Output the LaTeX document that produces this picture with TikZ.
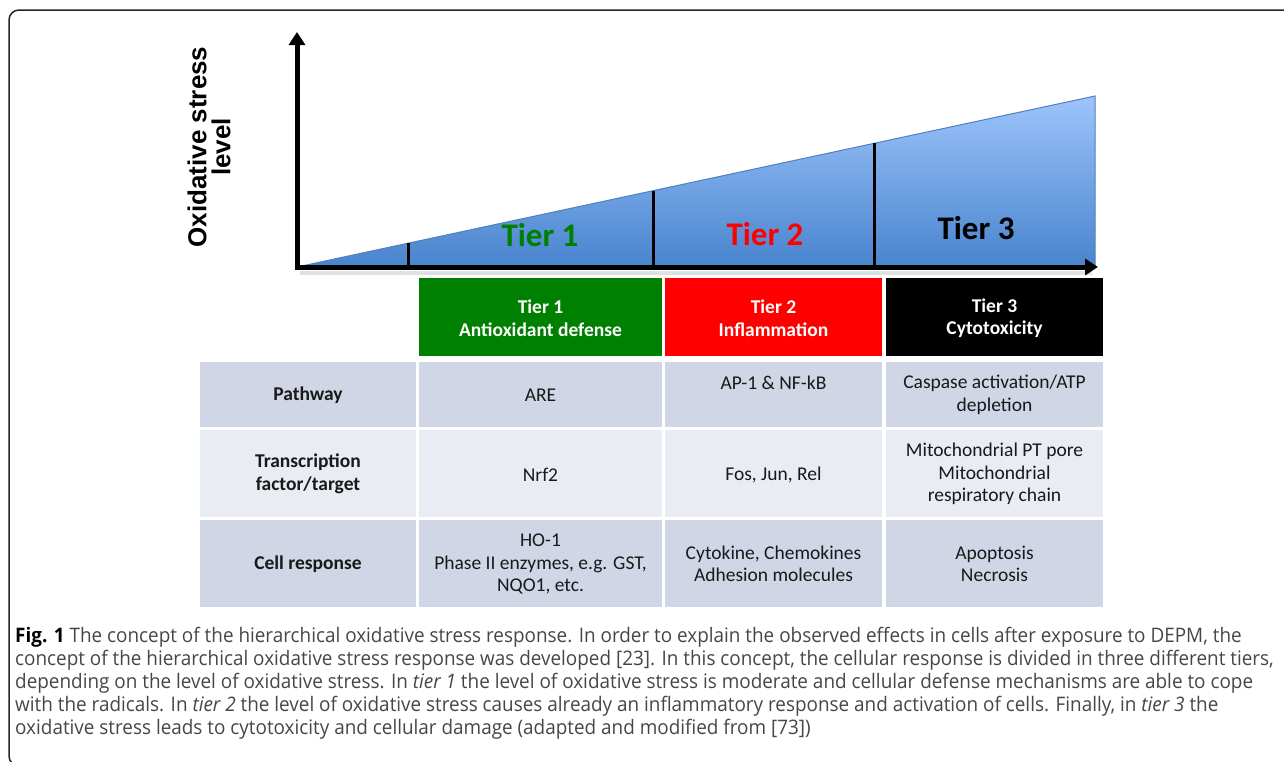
\documentclass[tikz,border=0pt]{standalone}
\usepackage{fontspec}
\setmainfont{Carlito}
\newfontfamily\axisfont{Liberation Sans}
\newfontfamily\capfont[FakeStretch=0.945]{Open Sans}
\usetikzlibrary{arrows.meta}
\definecolor{TierGreen}{rgb}{0, 0.5, 0}
\definecolor{TierRed}{rgb}{1, 0, 0}
\definecolor{RowDark}{RGB}{208,214,229}
\definecolor{RowLight}{RGB}{233,236,243}
\definecolor{WedgeTop}{RGB}{158,196,251}
\definecolor{WedgeBottom}{RGB}{72,132,206}
\definecolor{WedgeEdge}{RGB}{79,129,189}
\definecolor{CaptionGray}{RGB}{70,70,70}
\newcommand\cellfont{\fontsize{19.5}{22.5}\selectfont}

\begin{document}
\begin{tikzpicture}[x=1pt,y=1pt,yscale=-1,xscale=1,
	axis/.style={line width=5pt, -{Triangle[length=13pt,width=16pt]}},
	divider/.style={line width=3pt},
	tierlabel/.style={inner sep=0pt, font=\fontsize{33}{33}\selectfont\bfseries},
	celltext/.style={inner sep=0pt, align=center, font=\cellfont, text=black!90},
	headtext/.style={inner sep=0pt, align=center, font=\cellfont\bfseries, text=white}]
		\useasboundingbox (0,0) rectangle (1284,761);

		% Frame round the figure (open to the right and below)
		\draw[line width=1.5pt, black!85, rounded corners=10pt] (1300,10) -- (9,10) -- (9,766) -- (30,766);

		% Corners of the stress wedge
		\coordinate (O) at (297,267);
		\coordinate (wedgetop) at (1095,96);
		\coordinate (wedgeend) at (1095,267);

		% Blue wedge with gradient
		\shade[top color=WedgeTop, bottom color=WedgeBottom] (O) -- (wedgetop) -- (wedgeend) -- cycle;
		\draw[WedgeEdge, line width=1pt] (O) -- (wedgetop) -- (wedgeend);

		% Tier dividers, from the axis up to the wedge edge
		\draw[divider] (408,243.2) -- (408,266);
		\draw[divider] (653,190.7) -- (653,266);
		\draw[divider] (874,143.4) -- (874,266);

		% Soft shadow below the horizontal axis
		\draw[black!12, line width=4pt] (300,273) -- (1092,273);

		% Axes
		\coordinate (xstart) at (295,267);
		\coordinate (xend) at (1098,267);
		\coordinate (ystart) at (297,269.5);
		\coordinate (yend) at (297,32);
		\draw[axis] (xstart) -- (xend);
		\draw[axis] (ystart) -- (yend);

		% Axis label
		\node[rotate=90, align=center, inner sep=0pt, font=\axisfont\bfseries\fontsize{26}{24}\selectfont] (ylabel) at (209,147) {Oxidative stress\\level};

		% Tier names inside the wedge
		\node[tierlabel, text=TierGreen] (wtier1) at (540,235) {Tier 1};
		\node[tierlabel, text=TierRed] (wtier2) at (765,234) {Tier 2};
		\node[tierlabel, text=black] (wtier3) at (976,228) {Tier 3};

		% Table: header row
		\fill[TierGreen] (419,278) rectangle (662,356);
		\fill[TierRed] (665,278) rectangle (882,356);
		\fill[black] (886,278) rectangle (1103,356);

		% Table: body rows
		\fill[RowDark] (200,362) rectangle (416,427);
		\fill[RowDark] (419,362) rectangle (662,427);
		\fill[RowDark] (665,362) rectangle (882,427);
		\fill[RowDark] (886,362) rectangle (1103,427);
		\fill[RowLight] (200,430) rectangle (416,517);
		\fill[RowLight] (419,430) rectangle (662,517);
		\fill[RowLight] (665,430) rectangle (882,517);
		\fill[RowLight] (886,430) rectangle (1103,517);
		\fill[RowDark] (200,520) rectangle (416,607);
		\fill[RowDark] (419,520) rectangle (662,607);
		\fill[RowDark] (665,520) rectangle (882,607);
		\fill[RowDark] (886,520) rectangle (1103,607);

		% Header texts
		\node[headtext] (head1) at (540.5,318) {Tier 1\\Antioxidant defense};
		\node[headtext] (head2) at (773.5,318) {Tier 2\\Inflammation};
		\node[headtext] (head3) at (994.5,318) {Tier 3\\Cytotoxicity};

		% Row labels
		\node[celltext, font=\cellfont\bfseries] (pathway) at (308,395) {Pathway};
		\node[celltext, font=\cellfont\bfseries] (factor) at (308,474) {Transcription\\factor/target};
		\node[celltext, font=\cellfont\bfseries] (response) at (308,564) {Cell response};

		% Pathway row
		\node[celltext] (are) at (540.5,395) {ARE};
		\node[celltext] (apnf) at (773.5,383) {AP-1 \& NF-kB};
		\node[celltext] (caspase) at (994.5,395) {Caspase activation/ATP\\depletion};

		% Transcription factor row
		\node[celltext] (nrf) at (540.5,475) {Nrf2};
		\node[celltext] (fos) at (773.5,475) {Fos, Jun, Rel};
		\node[celltext] (mito) at (994.5,474) {Mitochondrial PT pore\\Mitochondrial\\respiratory chain};

		% Cell response row
		\node[celltext] (ho) at (540.5,564) {HO-1\\Phase II enzymes, e.g. GST,\\NQO1, etc.};
		\node[celltext] (cyto) at (773.5,564) {Cytokine, Chemokines\\Adhesion molecules};
		\node[celltext] (apop) at (994.5,564) {Apoptosis\\Necrosis};

		% Caption
		\node[anchor=north west, inner sep=0pt, align=left, text=CaptionGray, font=\capfont\fontsize{20}{23}\selectfont] (caption) at (15,627) {\textcolor{black}{\bfseries Fig. 1} The concept of the hierarchical oxidative stress response. In order to explain the observed effects in cells after exposure to DEPM, the\\
		concept of the hierarchical oxidative stress response was developed [23]. In this concept, the cellular response is divided in three different tiers,\\
		depending on the level of oxidative stress. In \textit{tier 1} the level of oxidative stress is moderate and cellular defense mechanisms are able to cope\\
		with the radicals. In \textit{tier 2} the level of oxidative stress causes already an inflammatory response and activation of cells. Finally, in \textit{tier 3} the\\
		oxidative stress leads to cytotoxicity and cellular damage (adapted and modified from [73])};
	\end{tikzpicture}
\end{document}
